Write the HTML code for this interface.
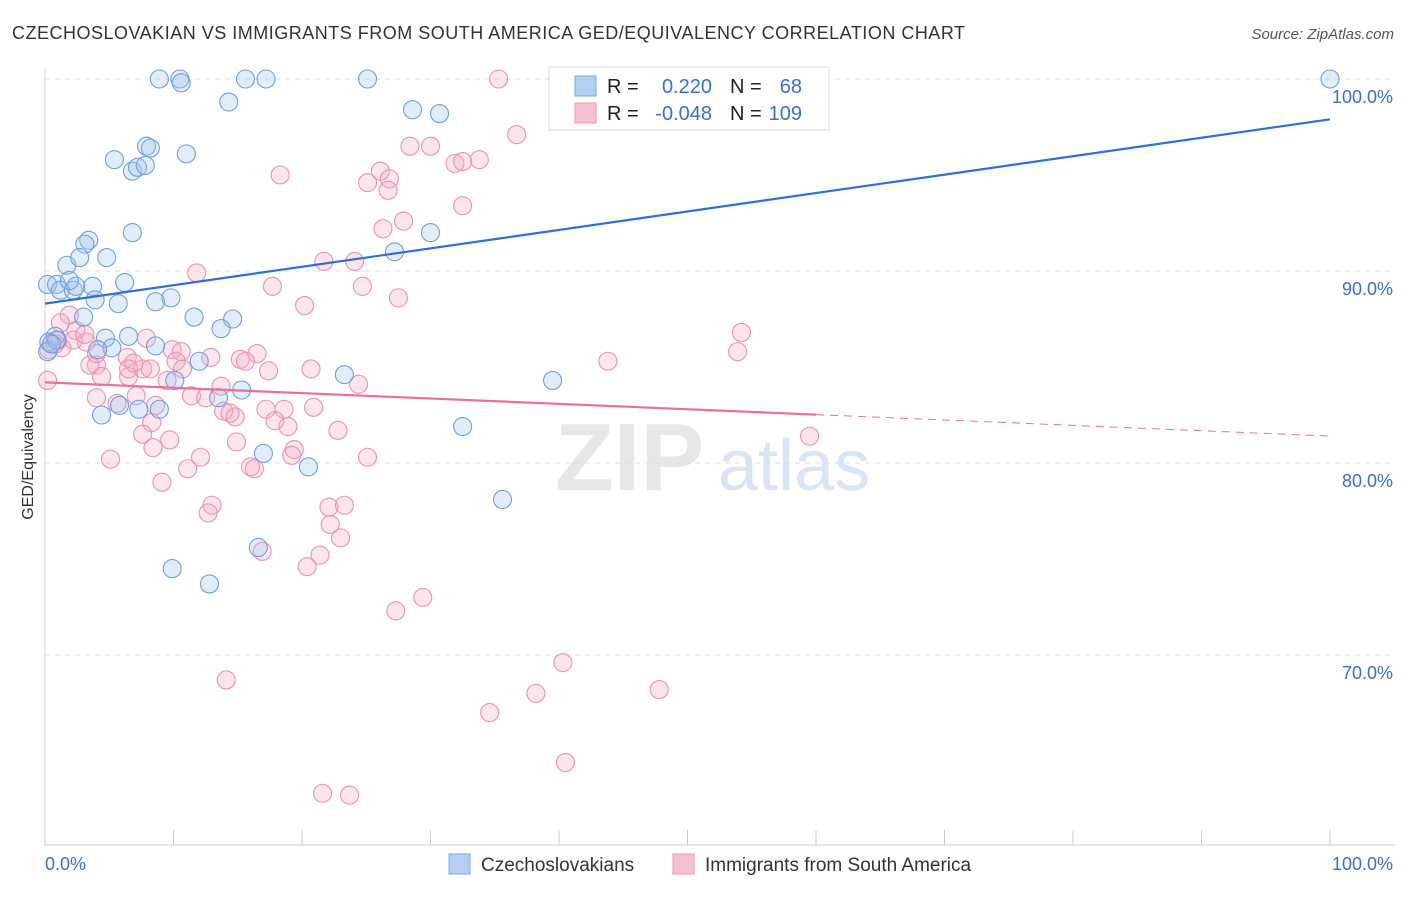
<!DOCTYPE html>
<html><head><meta charset="utf-8"><style>
body{margin:0;background:#fff;font-family:"Liberation Sans",sans-serif;}
svg text{font-family:"Liberation Sans",sans-serif;}
</style></head><body>
<svg id="chart" width="1406" height="892" xmlns="http://www.w3.org/2000/svg">
<text x="12" y="39" font-size="18" fill="#333" textLength="953" lengthAdjust="spacing">CZECHOSLOVAKIAN VS IMMIGRANTS FROM SOUTH AMERICA GED/EQUIVALENCY CORRELATION CHART</text>
<text x="1394" y="39" font-size="15" fill="#555" text-anchor="end" font-style="italic">Source: ZipAtlas.com</text>
<text x="555" y="490" font-size="96" fill="#e2e2e2" font-family="Liberation Serif" font-weight="bold" opacity="0.8">ZIP</text>
<text x="718" y="490" font-size="72" fill="#d0dff2" opacity="0.8">atlas</text>
<g id="grid"></g><g id="axes"></g><g id="pts"></g><g id="trend"></g>
<text transform="translate(33,457) rotate(-90)" font-size="16" fill="#333" text-anchor="middle">GED/Equivalency</text>
<g>
<rect x="549" y="67" width="280" height="63" fill="#fff" stroke="#ddd"/>
<rect x="575" y="76" width="21" height="20" fill="#b5cff2" stroke="#7aaae6"/>
<rect x="575" y="103" width="21" height="20" fill="#f7c0d0" stroke="#ee9ab5"/>
<text x="607" y="93" font-size="20" fill="#222">R =</text><text x="712" y="93" font-size="20" fill="#3a6fd0" text-anchor="end">0.220</text>
<text x="730" y="93" font-size="20" fill="#222">N =</text><text x="802" y="93" font-size="20" fill="#3a6fd0" text-anchor="end">68</text>
<text x="607" y="120" font-size="20" fill="#222">R =</text><text x="712" y="120" font-size="20" fill="#3a6fd0" text-anchor="end">-0.048</text>
<text x="730" y="120" font-size="20" fill="#222">N =</text><text x="802" y="120" font-size="20" fill="#3a6fd0" text-anchor="end">109</text>
</g>
<g>
<rect x="449" y="854" width="21" height="20" fill="#b5cff2" stroke="#7aaae6"/>
<text x="481" y="871" font-size="19" fill="#333">Czechoslovakians</text>
<rect x="673" y="854" width="21" height="20" fill="#f7c0d0" stroke="#ee9ab5"/>
<text x="705" y="871" font-size="19" fill="#333">Immigrants from South America</text>
</g>
</svg>
<script>
const yTicks=[100,90,80,70];
const yTickLabels=["100.0%","90.0%","80.0%","70.0%"];
const xTicks=[0,10,20,30,40,50,60,70,80,90,100];
const blueX=[8.9,10.5,10.6,15.6,17.2,25.1,100,14.3,28.6,30.7,7.9,8.2,5.4,11.0,6.8,7.2,7.8,6.8,3.4,3.1,4.8,1.7,2.7,0.2,0.9,1.2,2.2,2.4,3.7,1.9,6.2,3.9,5.7,8.6,9.8,3.0,11.6,14.6,13.7,6.5,4.7,5.2,4.1,0.8,0.3,0.2,8.6,12.0,10.1,23.3,39.5,15.3,13.5,5.8,8.9,4.4,7.3,32.5,17.0,20.5,27.2,30.0,35.6,16.6,9.9,12.8,0.9,0.5];
const blueY=[100,100,99.8,100,100,100,100,98.8,98.4,98.2,96.5,96.4,95.8,96.1,95.2,95.4,95.5,92.0,91.6,91.4,90.7,90.3,90.7,89.3,89.3,89.0,89.0,89.2,89.2,89.5,89.4,88.5,88.3,88.4,88.6,87.6,87.6,87.5,87.0,86.6,86.5,86.0,85.9,86.6,86.3,85.8,86.1,85.3,84.3,84.6,84.3,83.8,83.4,83.0,82.8,82.5,82.8,81.9,80.5,79.8,91.0,92.0,78.1,75.6,74.5,73.7,86.4,86.2];
const pinkX=[35.3,36.7,28.4,30.0,31.9,32.5,33.8,18.3,26.1,25.1,26.8,26.7,32.5,27.9,26.3,21.7,24.1,11.8,17.7,24.7,27.5,20.2,54.2,53.9,43.8,1.2,1.9,2.4,3.2,1.3,0.8,4.0,4.0,6.4,7.6,8.2,6.5,4.4,6.9,7.9,9.9,10.6,10.2,12.9,10.7,15.2,16.5,15.6,17.4,20.7,9.5,11.4,12.5,13.7,24.4,4.0,5.6,8.6,7.1,13.9,14.8,14.4,17.2,18.6,17.9,18.9,20.9,22.8,8.3,7.6,9.7,14.9,19.4,5.1,8.4,12.1,11.1,16.0,16.3,19.2,25.1,9.1,13.0,12.7,22.1,23.3,22.2,23.0,21.4,20.4,16.9,27.3,29.4,40.3,14.1,38.2,47.8,34.6,40.5,21.6,23.7,59.5,0.2,3.5,6.5,2.2,3.1,1.0,0.3];
const pinkY=[100,97.1,96.5,96.5,95.6,95.7,95.8,95.0,95.2,94.6,94.8,94.2,93.4,92.6,92.2,90.5,90.5,89.9,89.2,89.2,88.6,88.2,86.8,85.8,85.3,87.3,87.7,86.9,86.3,86.0,86.2,85.7,85.1,85.5,84.9,84.9,84.5,84.5,85.2,86.5,85.9,85.8,85.3,85.5,84.9,85.4,85.7,85.3,84.8,84.9,84.3,83.5,83.4,84.0,84.1,83.4,83.1,83.0,83.5,82.7,82.4,82.6,82.8,82.8,82.2,81.9,82.9,81.7,82.1,81.5,81.2,81.1,80.7,80.2,80.8,80.3,79.7,79.8,79.7,80.4,80.3,79.0,77.8,77.4,77.7,77.8,76.8,76.1,75.2,74.6,75.4,72.3,73.0,69.6,68.7,68.0,68.2,67.0,64.4,62.8,62.7,81.4,84.3,85.1,84.9,86.4,86.7,86.4,85.9];
const blueTrend=[88.3,97.9];
const pinkTrend=[84.2,81.4];
const pinkSolidEnd=60;
const X0=45,X1=1330,Y100=79,PX_PER=19.2;
const sx=v=>X0+(X1-X0)*v/100;
const sy=v=>Y100+(100-v)*PX_PER;
const NS="http://www.w3.org/2000/svg";
function mk(tag,attrs,parent){const e=document.createElementNS(NS,tag);for(const k in attrs)e.setAttribute(k,attrs[k]);document.getElementById(parent).appendChild(e);return e;}
yTicks.forEach((t,i)=>{
 const l=mk('line',{x1:X0,x2:1395,y1:sy(t),y2:sy(t),stroke:'#ddd','stroke-dasharray':'5,5'},'grid');
 
 
 const tx=mk('text',{x:1393,y:sy(t)+24,'font-size':18,fill:'#3a6fd0','text-anchor':'end'},'grid');tx.textContent=yTickLabels[i];
 
 
});
const ax=mk('line',{x1:X0,x2:X0,y1:68,y2:845,stroke:'#ccc'},'axes');


const bx=mk('line',{x1:X0,x2:1395,y1:845,y2:845,stroke:'#ccc'},'axes');


xTicks.forEach(t=>{const l=mk('line',{x1:sx(t),x2:sx(t),y1:830,y2:845,stroke:'#ccc'},'axes');
 
 });
const xl0=mk('text',{x:45,y:870,'font-size':18,fill:'#3a6fd0'},'axes');xl0.textContent='0.0%';


const xl1=mk('text',{x:1393,y:870,'font-size':18,fill:'#3a6fd0','text-anchor':'end'},'axes');xl1.textContent='100.0%';


pinkX.forEach((x,i)=>{const c=mk('circle',{cx:sx(x),cy:sy(pinkY[i]),r:9,fill:'rgba(244,170,195,0.3)',stroke:'#eb93b0','stroke-width':1.1},'pts');
 
 });
blueX.forEach((x,i)=>{const c=mk('circle',{cx:sx(x),cy:sy(blueY[i]),r:9,fill:'rgba(160,195,240,0.3)',stroke:'#6f9fe0','stroke-width':1.1},'pts');
 
 });
const bt=mk('line',{x1:sx(0),y1:sy(blueTrend[0]),x2:sx(100),y2:sy(blueTrend[1]),stroke:'#2f6fd6','stroke-width':2.2},'trend');


const pm=pinkTrend[0]+(pinkTrend[1]-pinkTrend[0])*pinkSolidEnd/100;
const pt=mk('line',{x1:sx(0),y1:sy(pinkTrend[0]),x2:sx(pinkSolidEnd),y2:sy(pm),stroke:'#e8709a','stroke-width':2.2},'trend');


const pd=mk('line',{x1:sx(pinkSolidEnd),y1:sy(pm),x2:sx(100),y2:sy(pinkTrend[1]),stroke:'#e8709a','stroke-width':1,'stroke-dasharray':'8,6'},'trend');


</script>
</body></html>
